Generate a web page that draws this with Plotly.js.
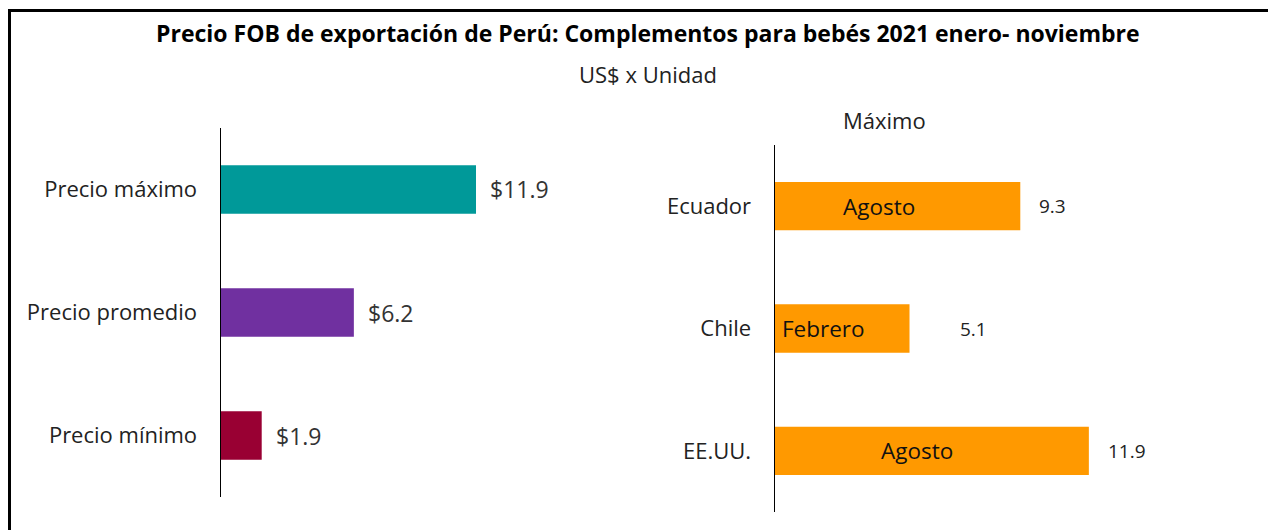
<!DOCTYPE html>
<html>
<head>
<meta charset="utf-8">
<script src="https://cdn.plot.ly/plotly-3.0.1.min.js"></script>
<style>html,body{margin:0;padding:0;background:#fff;}#chart{width:1268px;height:530px;}</style>
</head>
<body>
<div id="chart"></div>
<script>
// ---- data ----
const priceCategories = ["Precio máximo", "Precio promedio", "Precio mínimo"];
const priceValues = [11.9, 6.2, 1.9];
const priceLabels = ["$11.9", "$6.2", "$1.9"];

const countries = ["Ecuador", "Chile", "EE.UU."];
const maxValues = [9.3, 5.1, 11.9];
const maxMonths = ["Agosto", "Febrero", "Agosto"];
const maxLabels = ["9.3", "5.1", "11.9"];

const titleText = "Precio FOB de exportación de Perú: Complementos para bebés 2021 enero- noviembre";
const subtitleText = "US$ x Unidad";
const rightPanelTitle = "Máximo";

// ---- styles ----
const FONT = "'Open Sans', 'Noto Sans', sans-serif";
const priceColors = ["#009999", "#7030A0", "#990033"];
const orange = "#FF9900";
const monthAnchor = ["center", "left", "center"];
const monthShift = [-19, 5, -15];
const valueShift = [17, 48, 17];

const W = 1268, H = 530;
const px = x => x / W;
const py = y => 1 - y / H;

const traces = [
  {
    type: "bar", orientation: "h",
    x: priceValues, y: priceCategories,
    marker: {color: priceColors},
    xaxis: "x", yaxis: "y",
    hoverinfo: "skip"
  },
  {
    type: "bar", orientation: "h",
    x: maxValues, y: countries,
    marker: {color: orange},
    xaxis: "x2", yaxis: "y2",
    hoverinfo: "skip"
  }
];

const annotations = [
  {text: "<b>" + titleText + "</b>", xref: "paper", yref: "paper", x: px(648), y: py(33),
   xanchor: "center", yanchor: "middle", showarrow: false, font: {family: FONT, size: 23, color: "#000"}},
  {text: subtitleText, xref: "paper", yref: "paper", x: px(648), y: py(74),
   xanchor: "center", yanchor: "middle", showarrow: false, font: {family: FONT, size: 22, color: "#222"}},
  {text: rightPanelTitle, xref: "paper", yref: "paper", x: px(884), y: py(120),
   xanchor: "center", yanchor: "middle", showarrow: false, font: {family: FONT, size: 22, color: "#222"}}
];

priceValues.forEach((v, i) => {
  annotations.push({text: priceLabels[i], xref: "x", yref: "y", x: v, y: priceCategories[i],
    xanchor: "left", yanchor: "middle", xshift: 12, showarrow: false,
    font: {family: FONT, size: 23, color: "#333"}});
});
maxValues.forEach((v, i) => {
  annotations.push({text: maxLabels[i], xref: "x2", yref: "y2", x: v, y: countries[i],
    xanchor: "left", yanchor: "middle", xshift: valueShift[i], showarrow: false,
    font: {family: FONT, size: 19, color: "#222"}});
  annotations.push({text: maxMonths[i], xref: "x2", yref: "y2",
    x: monthAnchor[i] === "center" ? v / 2 : 0, y: countries[i],
    xanchor: monthAnchor[i], yanchor: "middle", xshift: monthShift[i], showarrow: false,
    font: {family: FONT, size: 22.5, color: "#111"}});
});

const layout = {
  width: W, height: H,
  margin: {l: 0, r: 0, t: 0, b: 0, pad: 0},
  paper_bgcolor: "#fff", plot_bgcolor: "rgba(0,0,0,0)",
  showlegend: false,
  bargap: 0.605,
  font: {family: FONT},
  xaxis: {domain: [px(221), px(521)], range: [0, 14], visible: false, fixedrange: true},
  yaxis: {domain: [py(497), py(128)], autorange: "reversed", showline: true, linecolor: "#000", linewidth: 1.5,
          showgrid: false, zeroline: false, ticks: "", ticklabelstandoff: 18,
          tickfont: {family: FONT, size: 22, color: "#222"}, anchor: "x", fixedrange: true},
  xaxis2: {domain: [px(775), px(1197)], range: [0, 16], visible: false, anchor: "y2", fixedrange: true},
  yaxis2: {domain: [py(512), py(145)], autorange: "reversed", showline: true, linecolor: "#000", linewidth: 1.5,
           showgrid: false, zeroline: false, ticks: "", ticklabelstandoff: 18,
           tickfont: {family: FONT, size: 22, color: "#222"}, anchor: "x2", fixedrange: true},
  annotations: annotations,
  shapes: [
    {type: "line", xref: "paper", yref: "paper", x0: px(9.5), x1: 1, y0: py(10.5), y1: py(10.5),
     line: {color: "#000", width: 3}},
    {type: "line", xref: "paper", yref: "paper", x0: px(9.5), x1: px(9.5), y0: py(9), y1: 0,
     line: {color: "#000", width: 3}}
  ]
};

Plotly.newPlot("chart", traces, layout, {staticPlot: true, displayModeBar: false});
</script>
</body>
</html>
